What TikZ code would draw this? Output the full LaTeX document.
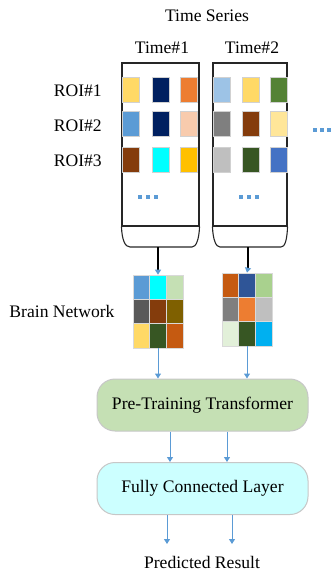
\documentclass[tikz,border=0pt]{standalone}
\usepackage{fontspec}
\setmainfont{Liberation Serif}
\usetikzlibrary{arrows.meta,calc}
\definecolor{ablue}{HTML}{5B9BD5}
\definecolor{c1}{HTML}{FFD966}\definecolor{c2}{HTML}{002060}\definecolor{c3}{HTML}{ED7D31}
\definecolor{c4}{HTML}{5B9BD5}\definecolor{c5}{HTML}{F8CBAD}\definecolor{c6}{HTML}{843C0C}
\definecolor{c7}{HTML}{00FFFF}\definecolor{c8}{HTML}{FFC000}\definecolor{c9}{HTML}{9DC3E6}
\definecolor{c10}{HTML}{548235}\definecolor{c11}{HTML}{7F7F7F}\definecolor{c12}{HTML}{FFE699}
\definecolor{c13}{HTML}{BFBFBF}\definecolor{c14}{HTML}{375623}\definecolor{c15}{HTML}{4472C4}
\definecolor{c16}{HTML}{C5E0B4}\definecolor{c17}{HTML}{595959}\definecolor{c18}{HTML}{7F6000}
\definecolor{c19}{HTML}{C55A11}\definecolor{c20}{HTML}{2F5597}\definecolor{c21}{HTML}{A9D18E}
\definecolor{c22}{HTML}{E2F0D9}\definecolor{c23}{HTML}{00B0F0}
\definecolor{ptfill}{HTML}{C5E0B4}\definecolor{fcfill}{HTML}{CCFFFF}
\tikzset{
  lbl/.style={font=\fontsize{17.6}{20}\selectfont, inner sep=0pt},
  sq/.style={draw=black!18, line width=0.8pt, minimum width=17pt, minimum height=25pt, inner sep=0pt},
  cell/.style={draw=black!15, line width=0.6pt, minimum width=16.7pt, minimum height=24.3pt, inner sep=0pt},
  tsbox/.style={draw=black!85, line width=1.1pt, minimum height=163pt, inner sep=0pt},
  dot/.style={fill=ablue, minimum size=3.6pt, inner sep=0pt},
  rbox/.style={draw=black!22, line width=1pt, rounded corners=18pt, minimum width=211pt, minimum height=52pt, inner sep=0pt},
  barrow/.style={ablue, line width=1pt, -{Triangle[width=6pt,length=5pt]}},
  karrow/.style={black, line width=1.1pt},
  ktip/.style={ablue, line width=1pt, -{Triangle[width=6pt,length=5pt]}}
}
\begin{document}
\begin{tikzpicture}[x=1pt,y=-1pt]
\useasboundingbox (0,0) rectangle (331,571);
% titles
\node[lbl] (title) at (207,16) {Time Series};
\node[lbl] (t1) at (162,48) {Time\#1};
\node[lbl] (t2) at (252,48) {Time\#2};
% row labels
\node[lbl, anchor=east] (r1) at (102,91) {ROI\#1};
\node[lbl, anchor=east] (r2) at (102,126) {ROI\#2};
\node[lbl, anchor=east] (r3) at (102,161) {ROI\#3};
% time series boxes
\node[tsbox, minimum width=77pt] (ts1) at (160.5,144.5) {};
\node[tsbox, minimum width=74pt] (ts2) at (250,144.5) {};
\draw[black!85, line width=1.1pt] (ts1.south west) .. controls (122,240) and (125,247) .. (130,247) -- (192,247) .. controls (196,247) and (199,240) .. (ts1.south east);
\draw[black!85, line width=1.1pt] (ts2.south west) .. controls (213,240) and (216,247) .. (220,247) -- (281,247) .. controls (285,247) and (287,240) .. (ts2.south east);
\coordinate (ts1b) at (158,247);
\coordinate (ts2b) at (248,247);
% squares box 1
\node[sq, fill=c1] (a11) at (130.5,89.5) {};
\node[sq, fill=c2] (a12) at (160.5,89.5) {};
\node[sq, fill=c3] (a13) at (188.5,89.5) {};
\node[sq, fill=c4] (a21) at (130.5,124) {};
\node[sq, fill=c2] (a22) at (160.5,124) {};
\node[sq, fill=c5] (a23) at (188.5,124) {};
\node[sq, fill=c6] (a31) at (130.5,160) {};
\node[sq, fill=c7] (a32) at (160.5,160) {};
\node[sq, fill=c8] (a33) at (188.5,160) {};
% squares box 2
\node[sq, fill=c9] (b11) at (221.5,89.5) {};
\node[sq, fill=c1] (b12) at (250.5,89.5) {};
\node[sq, fill=c10] (b13) at (278.5,89.5) {};
\node[sq, fill=c11] (b21) at (221.5,124) {};
\node[sq, fill=c6] (b22) at (250.5,124) {};
\node[sq, fill=c12] (b23) at (278.5,124) {};
\node[sq, fill=c13] (b31) at (221.5,160) {};
\node[sq, fill=c14] (b32) at (250.5,160) {};
\node[sq, fill=c15] (b33) at (278.5,160) {};
% dots
\foreach \i/\x in {1/140,2/148,3/156}{\node[dot] (d1\i) at (\x,197) {};}
\foreach \i/\x in {1/241,2/249,3/257}{\node[dot] (d2\i) at (\x,197) {};}
\foreach \i/\x in {1/315,2/322,3/329}{\node[dot] (d3\i) at (\x,130) {};}
% brain network
\node[lbl] (bn) at (62,311) {Brain Network};
\node[cell, fill=c4] (g11) at (141.35,287.15) {};
\node[cell, fill=c7] (g12) at (158,287.15) {};
\node[cell, fill=c16] (g13) at (174.65,287.15) {};
\node[cell, fill=c17] (g21) at (141.35,311.5) {};
\node[cell, fill=c6] (g22) at (158,311.5) {};
\node[cell, fill=c18] (g23) at (174.65,311.5) {};
\node[cell, fill=c1] (g31) at (141.35,335.85) {};
\node[cell, fill=c14] (g32) at (158,335.85) {};
\node[cell, fill=c19] (g33) at (174.65,335.85) {};
\node[cell, fill=c19] (h11) at (230.35,285.15) {};
\node[cell, fill=c20] (h12) at (247,285.15) {};
\node[cell, fill=c21] (h13) at (263.65,285.15) {};
\node[cell, fill=c11] (h21) at (230.35,309.5) {};
\node[cell, fill=c3] (h22) at (247,309.5) {};
\node[cell, fill=c13] (h23) at (263.65,309.5) {};
\node[cell, fill=c22] (h31) at (230.35,333.85) {};
\node[cell, fill=c14] (h32) at (247,333.85) {};
\node[cell, fill=c23] (h33) at (263.65,333.85) {};
% arrows time series -> brain network
\coordinate (k1) at (158,270);
\coordinate (k2) at (248,268);
\draw[karrow] (ts1b) -- (k1);
\draw[karrow] (ts2b) -- (k2);
\draw[ktip] (k1) -- (g12.north);
\draw[ktip] (k2) -- (h12.north);
% blocks
\node[rbox, fill=ptfill] (pt) at (202.5,405) {};
\node[lbl] (ptt) at (pt.center) {Pre-Training Transformer};
\node[rbox, fill=fcfill] (fc) at (202.5,488.5) {};
\node[lbl] (fct) at (fc.center) {Fully Connected Layer};
\draw[barrow] (g32.south) -- (g32.south |- pt.north);
\draw[barrow] (h32.south) -- (h32.south |- pt.north);
\draw[barrow] ([xshift=-32.5pt]pt.south) -- ([xshift=-32.5pt]fc.north);
\draw[barrow] ([xshift=24.5pt]pt.south) -- ([xshift=24.5pt]fc.north);
\node[lbl, anchor=base] (pr) at (202,568) {Predicted Result};
\coordinate (e1) at (167,544);
\coordinate (e2) at (232,544);
\draw[barrow] (fc.south -| e1) -- (e1);
\draw[barrow] (fc.south -| e2) -- (e2);
\end{tikzpicture}
\end{document}
